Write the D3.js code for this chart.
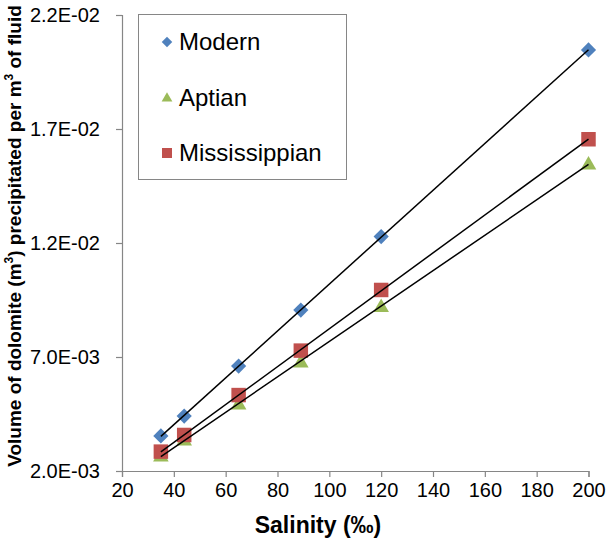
<!DOCTYPE html>
<html>
<head>
<meta charset="utf-8">
<script src="https://cdn.jsdelivr.net/npm/d3@7"></script>
<style>
  body { margin: 0; background: #fff; }
  text { font-family: "Liberation Sans", Arial, sans-serif; }
</style>
</head>
<body>
<div id="chart"></div>
<script>
// salinity (per mil) for every series
var salinity = [35, 44, 65, 89, 120, 200];
// volume of dolomite per m3 of fluid
var modern = [0.00354, 0.00441, 0.0066, 0.00906, 0.01228, 0.02047];
var aptian = [0.00266, 0.00336, 0.00494, 0.00678, 0.00922, 0.01547];
var mississippian = [0.00285, 0.00358, 0.00533, 0.00728, 0.00994, 0.01655];
var xTicks = [20, 40, 60, 80, 100, 120, 140, 160, 180, 200];
var yTicks = [0.002, 0.007, 0.012, 0.017, 0.022];

var width = 606, height = 548;
var plotLeft = 122, plotRight = 588.5, plotTop = 15, plotBottom = 471;
var axisColor = "#868686";

var series = [
    {name: "Modern", values: modern, color: "#4F81BD", shape: "diamond"},
    {name: "Aptian", values: aptian, color: "#9BBB59", shape: "triangle"},
    {name: "Mississippian", values: mississippian, color: "#C0504D", shape: "square"}
];

var svg = d3.select("#chart").append("svg")
    .attr("width", width)
    .attr("height", height);

var x = d3.scaleLinear().domain([20, 200]).range([plotLeft, plotRight]);
var y = d3.scaleLinear().domain([0.002, 0.022]).range([plotBottom, plotTop]);

// 2.0E-03 style labels
function sci(v) {
    var s = v.toExponential(1).split("e");
    var exp = +s[1];
    return s[0] + "E" + (exp < 0 ? "-" : "+") + d3.format("02d")(Math.abs(exp));
}

// x axis
var xAxis = svg.append("g")
    .attr("transform", "translate(0," + plotBottom + ")")
    .call(d3.axisBottom(x).tickValues(xTicks).tickSizeOuter(0).tickSize(6).tickPadding(6));
xAxis.selectAll("text").style("font-size", "20px").attr("fill", "#000")
    .attr("font-family", "Liberation Sans, Arial, sans-serif");

// y axis
var yAxis = svg.append("g")
    .attr("transform", "translate(" + plotLeft + ",0)")
    .call(d3.axisLeft(y).tickValues(yTicks).tickFormat(sci).tickSizeOuter(0).tickSize(6).tickPadding(16));
yAxis.selectAll("text").style("font-size", "20px").attr("fill", "#000")
    .attr("font-family", "Liberation Sans, Arial, sans-serif");

svg.selectAll(".domain, .tick line").attr("stroke", axisColor).attr("stroke-width", 1.2);

// axis titles
svg.append("text")
    .attr("x", 318)
    .attr("y", 533)
    .attr("text-anchor", "middle")
    .style("font-size", "23px")
    .style("font-weight", "bold")
    .text("Salinity (‰)");

var yt = svg.append("text")
    .attr("transform", "translate(21,236) rotate(-90)")
    .attr("text-anchor", "middle")
    .style("font-size", "19px")
    .style("font-weight", "bold");
yt.append("tspan").text("Volume of dolomite (m");
yt.append("tspan").attr("dy", -8).style("font-size", "12px").text("3");
yt.append("tspan").attr("dy", 8).text(") precipitated per m");
yt.append("tspan").attr("dy", -8).style("font-size", "12px").text("3");
yt.append("tspan").attr("dy", 8).text(" of fluid");

function symbolPath(shape, size) {
    if (shape === "diamond") return d3.symbol().type(d3.symbolSquare).size(size * 0.55)();
    if (shape === "triangle") return d3.symbol().type(d3.symbolTriangle).size(size * 0.5)();
    return d3.symbol().type(d3.symbolSquare).size(size)();
}
function symbolTransform(d, cx, cy) {
    var t = "translate(" + cx + "," + cy + ")";
    if (d.shape === "diamond") t += " rotate(45)";
    if (d.shape === "triangle") t += " translate(0,1)";
    return t;
}

// markers
series.forEach(function (s) {
    svg.append("g").selectAll("path")
        .data(s.values)
        .enter()
        .append("path")
        .attr("d", symbolPath(s.shape, 210))
        .attr("fill", s.color)
        .attr("transform", function (v, i) {
            return symbolTransform(s, x(salinity[i]), y(v));
        });
});

// linear trend lines
series.forEach(function (s) {
    var n = salinity.length;
    var mx = d3.mean(salinity), my = d3.mean(s.values);
    var sxy = 0, sxx = 0;
    for (var i = 0; i < n; i++) {
        sxy += (salinity[i] - mx) * (s.values[i] - my);
        sxx += (salinity[i] - mx) * (salinity[i] - mx);
    }
    var slope = sxy / sxx, icpt = my - slope * mx;
    var x0 = d3.min(salinity), x1 = d3.max(salinity);
    svg.append("line")
        .attr("x1", x(x0)).attr("y1", y(icpt + slope * x0))
        .attr("x2", x(x1)).attr("y2", y(icpt + slope * x1))
        .attr("stroke", "#000")
        .attr("stroke-width", 1.5);
});

// legend
var legend = svg.append("g");
legend.append("rect")
    .attr("x", 138.5).attr("y", 14.5)
    .attr("width", 208).attr("height", 165)
    .attr("fill", "#fff")
    .attr("stroke", axisColor)
    .attr("stroke-width", 1);

series.forEach(function (s, i) {
    var cy = 42 + i * 55.5;
    legend.append("path")
        .attr("d", symbolPath(s.shape, 100))
        .attr("fill", s.color)
        .attr("transform", symbolTransform(s, 167, cy));
    legend.append("text")
        .attr("x", 179)
        .attr("y", cy)
        .attr("dy", "0.35em")
        .style("font-size", "24px")
        .text(s.name);
});
</script>
</body>
</html>
